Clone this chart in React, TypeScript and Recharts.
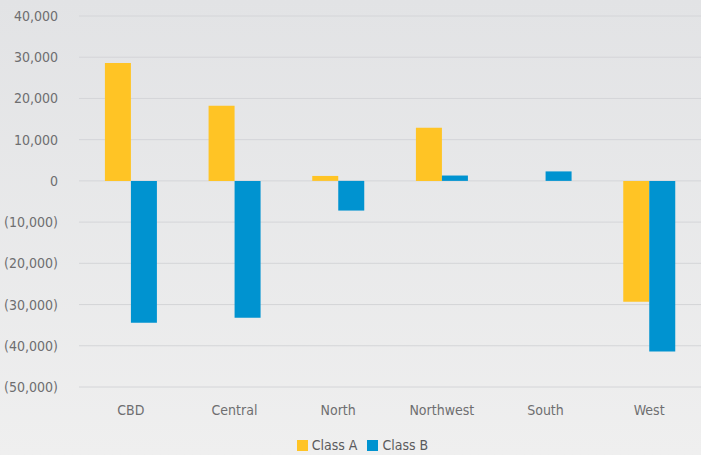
import React from "react";
import {
  BarChart,
  Bar,
  XAxis,
  YAxis,
  CartesianGrid,
  Legend,
} from "recharts";

const regions = ["CBD", "Central", "North", "Northwest", "South", "West"];
const classA = [28600, 18200, 1200, 12900, 0, -29300];
const classB = [-34400, -33200, -7200, 1300, 2300, -41400];
const yTicks = [-50000, -40000, -30000, -20000, -10000, 0, 10000, 20000, 30000, 40000];

const data = regions.map((region, i) => ({
  region,
  classA: classA[i],
  classB: classB[i],
}));

const fmt = (v: number) => {
  const s = Math.abs(v).toLocaleString("en-US");
  return v < 0 ? `(${s})` : s;
};

const font = "'DejaVu Sans Condensed', 'Liberation Sans Narrow', sans-serif";
const textColor = "#6e6e70";

const App = () => {
  return (
    <div
      style={{
        position: "fixed",
        top: 0,
        left: 0,
        width: 701,
        height: 455,
        background: "linear-gradient(to bottom, #e2e3e5 0%, #efefef 100%)",
        fontFamily: font,
      }}
    >
      <BarChart
        width={701}
        height={455}
        data={data}
        margin={{ top: 16, right: 0, left: 0, bottom: 0 }}
        barGap={0}
        barCategoryGap="25%"
      >
        <CartesianGrid vertical={false} stroke="#d4d5d8" />
        <XAxis
          dataKey="region"
          axisLine={false}
          tickLine={false}
          tickSize={0}
          tickMargin={18}
          height={44}
          tick={{ fill: textColor, fontSize: 14, fontFamily: font }}
        />
        <YAxis
          domain={[-50000, 40000]}
          ticks={yTicks}
          tickFormatter={fmt}
          axisLine={false}
          tickLine={false}
          tickSize={0}
          tickMargin={21}
          width={79}
          tick={{ fill: textColor, fontSize: 14, fontFamily: font }}
        />
        <Legend
          verticalAlign="bottom"
          height={24}
          iconType="square"
          iconSize={11}
          wrapperStyle={{ left: 17, bottom: -4 }}
          formatter={(value) => (
            <span style={{ color: "#5a5a5c", fontSize: 14, fontFamily: font }}>{value}</span>
          )}
        />
        <Bar dataKey="classA" name="Class A" fill="#ffc425" isAnimationActive={false} />
        <Bar dataKey="classB" name="Class B" fill="#0093d0" isAnimationActive={false} />
      </BarChart>
    </div>
  );
};

export default App;
